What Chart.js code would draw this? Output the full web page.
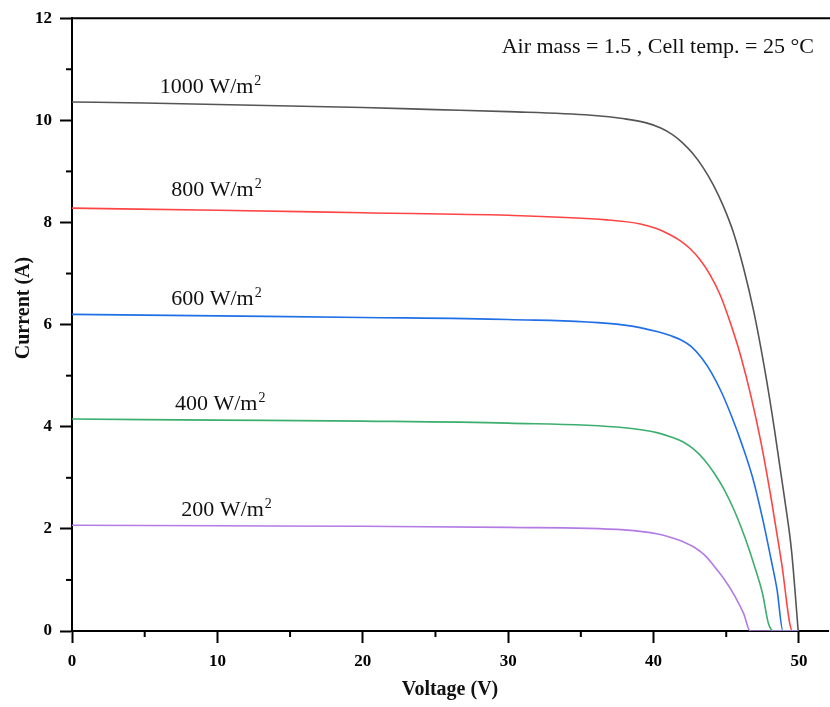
<!DOCTYPE html>
<html>
<head>
<meta charset="utf-8">
<script src="https://cdn.jsdelivr.net/npm/chart.js@4.4.1/dist/chart.umd.min.js"></script>
<style>
  html, body { margin: 0; padding: 0; background: #fff; }
  #wrap { width: 830px; height: 707px; }
</style>
</head>
<body>
<div id="wrap"><canvas id="ivChart" width="830" height="707"></canvas></div>
<script>
// I-V curves: voltage (V) and current (A)
var v1000 = [0, 5, 10, 15, 20, 25, 30, 35.7, 38.0, 39.5, 40.5, 41.3, 42.0, 42.7, 43.4, 44.1, 44.8, 45.5, 46.2, 46.9, 47.6, 48.3, 49.0, 49.5, 49.95];
var i1000 = [10.36, 10.34, 10.31, 10.28, 10.25, 10.21, 10.17, 10.10, 10.03, 9.95, 9.85, 9.72, 9.56, 9.35, 9.08, 8.74, 8.32, 7.80, 7.10, 6.25, 5.20, 3.98, 2.62, 1.55, 0];

var v800 = [0, 10, 20, 30, 36.8, 39.1, 40.2, 41.0, 41.8, 42.5, 43.2, 43.9, 44.6, 45.3, 46.0, 46.7, 47.4, 48.1, 48.8, 49.56, 49.95];
var i800 = [8.28, 8.24, 8.19, 8.14, 8.05, 7.97, 7.88, 7.78, 7.65, 7.49, 7.27, 6.97, 6.57, 6.02, 5.38, 4.60, 3.68, 2.58, 1.35, 0, 0];

var v600 = [0, 10, 20, 30, 38.0, 40.3, 41.2, 41.9, 42.6, 43.3, 44.0, 44.7, 45.4, 46.1, 46.8, 47.5, 48.1, 48.5, 48.9, 49.95];
var i600 = [6.20, 6.17, 6.14, 6.10, 5.99, 5.86, 5.78, 5.70, 5.57, 5.35, 5.05, 4.66, 4.18, 3.64, 3.02, 2.20, 1.38, 0.80, 0, 0];

var v400 = [0, 10, 20, 30, 38.0, 40.3, 41.2, 42.1, 42.8, 43.5, 44.2, 44.9, 45.6, 46.3, 47.0, 47.5, 47.9, 48.26, 49.95];
var i400 = [4.15, 4.13, 4.11, 4.07, 3.98, 3.88, 3.80, 3.69, 3.55, 3.35, 3.08, 2.75, 2.33, 1.82, 1.22, 0.73, 0.15, 0, 0];

var v200 = [0, 10, 20, 30, 38.0, 40.3, 41.2, 42.1, 42.8, 43.5, 44.2, 44.9, 45.6, 46.2, 46.65, 49.95];
var i200 = [2.07, 2.06, 2.05, 2.03, 1.98, 1.90, 1.83, 1.74, 1.64, 1.49, 1.26, 1.00, 0.68, 0.34, 0, 0];

var serieNames = ['1000', '800', '600', '400', '200'];
var serieColors = ['#555555', '#ff4444', '#1f6fe6', '#3cae6e', '#b47be4'];
var xTicks = [0, 10, 20, 30, 40, 50];
var yTicks = [0, 2, 4, 6, 8, 10, 12];
// where each irradiance label sits (data units: centre voltage, baseline current)
var labelPos = [[9.5, 10.53], [9.9, 8.51], [9.9, 6.39], [10.16, 4.32], [10.6, 2.26]];

var noteText = 'Air mass = 1.5 , Cell temp. = 25 °C';
var yTitle = 'Current (A)';

var serif = '"Liberation Serif", "Times New Roman", serif';

function puntos(vs, is) {
    return vs.map(function (v, k) {
        return { x: v, y: is[k] };
    });
}

var seriesData = [puntos(v1000, i1000), puntos(v800, i800), puntos(v600, i600), puntos(v400, i400), puntos(v200, i200)];

var datasets = seriesData.map(function (d, k) {
    return {
        label: serieNames[k] + ' W/m2',
        data: d,
        borderColor: serieColors[k],
        borderWidth: 1.6,
        pointRadius: 0,
        fill: false,
        cubicInterpolationMode: 'monotone',
        order: 5 - k
    };
});

// minor ticks, top frame line, y title and the text labels
var extras = {
    id: 'extras',
    afterDraw: function (chart) {
        var ctx = chart.ctx;
        var area = chart.chartArea;
        var xs = chart.scales.x, ys = chart.scales.y;
        ctx.save();
        ctx.strokeStyle = '#000';
        ctx.lineWidth = 2;

        // top frame
        ctx.beginPath();
        ctx.moveTo(area.left, area.top);
        ctx.lineTo(chart.width, area.top);
        ctx.stroke();

        // minor ticks halfway between the major ones
        for (var a = 0; a < xTicks.length - 1; a++) {
            var mx = xs.getPixelForValue((xTicks[a] + xTicks[a + 1]) / 2);
            ctx.beginPath();
            ctx.moveTo(mx, area.bottom);
            ctx.lineTo(mx, area.bottom + 6);
            ctx.stroke();
        }
        for (var b = 0; b < yTicks.length - 1; b++) {
            var my = ys.getPixelForValue((yTicks[b] + yTicks[b + 1]) / 2);
            ctx.beginPath();
            ctx.moveTo(area.left - 6, my);
            ctx.lineTo(area.left, my);
            ctx.stroke();
        }

        // y axis title
        ctx.save();
        ctx.translate(24, 308);
        ctx.rotate(-Math.PI / 2);
        ctx.fillStyle = '#111';
        ctx.font = 'bold 20px ' + serif;
        ctx.textAlign = 'center';
        ctx.textBaseline = 'middle';
        ctx.fillText(yTitle, 0, 0);
        ctx.restore();

        // irradiance labels with a raised 2
        ctx.fillStyle = '#111';
        ctx.textBaseline = 'alphabetic';
        for (var k = 0; k < serieNames.length; k++) {
            var main = serieNames[k] + ' W/m';
            ctx.font = '22px ' + serif;
            var wMain = ctx.measureText(main).width;
            ctx.font = '14px ' + serif;
            var wSup = ctx.measureText('2').width;
            var cx = xs.getPixelForValue(labelPos[k][0]);
            var by = ys.getPixelForValue(labelPos[k][1]);
            var x0 = cx - (wMain + wSup) / 2;
            ctx.font = '22px ' + serif;
            ctx.textAlign = 'left';
            ctx.fillText(main, x0, by);
            ctx.font = '14px ' + serif;
            ctx.fillText('2', x0 + wMain + 1, by - 8);
        }

        // conditions note, top right
        ctx.font = '22px ' + serif;
        ctx.textAlign = 'right';
        ctx.fillText(noteText, xs.getPixelForValue(51.03), ys.getPixelForValue(11.32));
        ctx.restore();
    }
};

var ctx = document.getElementById('ivChart').getContext('2d');
var myChart = new Chart(ctx, {
    type: 'line',
    data: { datasets: datasets },
    options: {
        responsive: false,
        animation: false,
        layout: { padding: { left: 0, right: 2, top: 15, bottom: 0 } },
        plugins: {
            legend: { display: false },
            tooltip: { enabled: false }
        },
        scales: {
            x: {
                type: 'linear',
                min: 0,
                max: 52,
                afterBuildTicks: function (scale) {
                    scale.ticks = xTicks.map(function (v) { return { value: v }; });
                },
                afterFit: function (scale) { scale.height = 76; },
                ticks: {
                    color: '#000',
                    padding: 8,
                    font: { family: serif, size: 17, weight: 'bold' }
                },
                grid: {
                    drawOnChartArea: false,
                    drawTicks: true,
                    tickLength: 12,
                    tickWidth: 2,
                    tickColor: '#000'
                },
                border: { color: '#000', width: 2 },
                title: {
                    display: true,
                    text: 'Voltage (V)',
                    color: '#111',
                    padding: 5,
                    font: { family: serif, size: 20, weight: 'bold' }
                }
            },
            y: {
                min: 0,
                max: 12,
                afterBuildTicks: function (scale) {
                    scale.ticks = yTicks.map(function (v) { return { value: v }; });
                },
                afterFit: function (scale) { scale.width = 72; },
                ticks: {
                    color: '#000',
                    padding: 8,
                    font: { family: serif, size: 17, weight: 'bold' }
                },
                grid: {
                    drawOnChartArea: false,
                    drawTicks: true,
                    tickLength: 12,
                    tickWidth: 2,
                    tickColor: '#000'
                },
                border: { color: '#000', width: 2 },
                title: { display: false }
            }
        }
    },
    plugins: [extras]
});
</script>
</body>
</html>
